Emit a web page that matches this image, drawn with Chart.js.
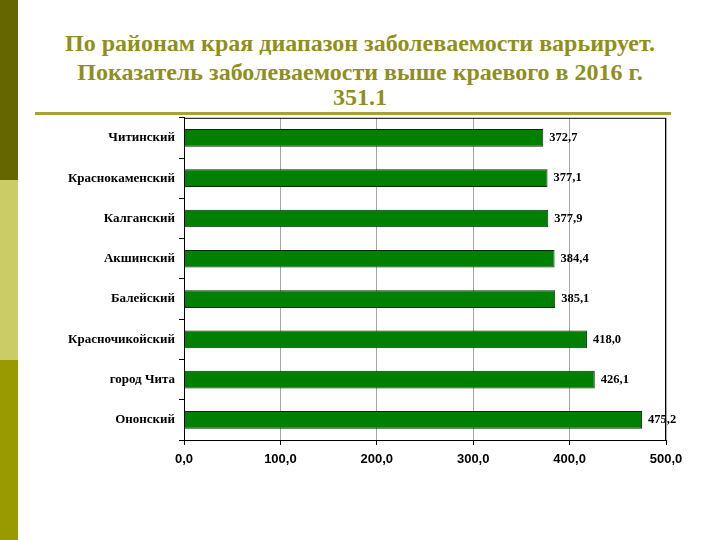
<!DOCTYPE html>
<html>
<head>
<meta charset="utf-8">
<script src="https://cdn.jsdelivr.net/npm/chart.js@4"></script>
<style>
  body { margin: 0; width: 720px; height: 540px; background: #fff; position: relative; overflow: hidden; }
  .stripe { position: absolute; left: 0; width: 18px; }
  .tline {
    position: absolute; left: 20px; width: 680px; text-align: center; height: 28px; line-height: 28px;
    font-family: "Liberation Serif", serif; font-weight: bold; font-size: 24px; color: #8f8f1c;
  }
  #rule { position: absolute; left: 35px; top: 112px; width: 636px; height: 3px; background: #a3a33a; }
  #wrap { position: absolute; left: 20px; top: 106px; width: 700px; height: 369px; }
</style>
</head>
<body>
<div class="stripe" style="top:0;height:180px;background:#666600"></div>
<div class="stripe" style="top:180px;height:180px;background:#cccc66"></div>
<div class="stripe" style="top:360px;height:180px;background:#999900"></div>
<div class="tline" style="top:29px">По районам края диапазон заболеваемости варьирует.</div>
<div class="tline" style="top:58px">Показатель заболеваемости выше краевого в 2016 г.</div>
<div class="tline" style="top:83px">351.1</div>
<div id="rule"></div>
<div id="wrap"><canvas id="chart"></canvas></div>
<script>
// --- Data ---
const districts = ['Читинский', 'Краснокаменский', 'Калганский', 'Акшинский', 'Балейский', 'Красночикойский', 'город Чита', 'Ононский'];
const rates = [372.7, 377.1, 377.9, 384.4, 385.1, 418.0, 426.1, 475.2];
const xTicks = [0, 100, 200, 300, 400, 500];

const fmt = v => v.toFixed(1).replace('.', ',');

// --- Values to the right of each bar + box around plot area ---
const valueLabels = {
    id: 'valueLabels',
    afterDatasetsDraw(chart) {
        const ctx = chart.ctx;
        const meta = chart.getDatasetMeta(0);
        ctx.save();
        ctx.font = 'bold 12.5px "Liberation Serif", serif';
        ctx.fillStyle = '#000';
        ctx.textBaseline = 'middle';
        meta.data.forEach((bar, i) => {
            ctx.fillText(fmt(rates[i]), bar.x + 6, bar.y);
        });
        const a = chart.chartArea;
        ctx.strokeStyle = '#000';
        ctx.lineWidth = 1;
        ctx.strokeRect(a.left + 0.5, a.top + 0.5, a.right - a.left - 1, a.bottom - a.top);
        ctx.restore();
    }
};

new Chart(document.getElementById('chart'), {
    type: 'bar',
    data: {
        labels: districts,
        datasets: [{
            data: rates,
            backgroundColor: '#008000',
            borderColor: '#0a2a0a',
            borderWidth: 1,
            barPercentage: 0.44,
            categoryPercentage: 1
        }]
    },
    options: {
        indexAxis: 'y',
        responsive: true,
        maintainAspectRatio: false,
        animation: false,
        layout: { padding: { top: 2, right: 54, left: 0, bottom: 0 } },
        plugins: { legend: { display: false }, tooltip: { enabled: false } },
        scales: {
            x: {
                min: 0, max: 500,
                afterBuildTicks: s => { s.ticks = xTicks.map(v => ({ value: v })); },
                afterFit: s => { s.height = 35; },
                border: { color: '#000' },
                grid: { color: '#a8a8a8', tickColor: '#000', tickLength: 5 },
                ticks: {
                    color: '#000', padding: 7,
                    font: { family: '"Liberation Sans", Arial', weight: 'bold', size: 13 },
                    callback: v => fmt(v)
                }
            },
            y: {
                afterFit: s => { s.width = 164; },
                border: { color: '#000' },
                grid: { drawOnChartArea: false, tickColor: '#000', tickLength: 5 },
                ticks: {
                    color: '#000', padding: 4,
                    font: { family: '"Liberation Serif", serif', weight: 'bold', size: 13 }
                }
            }
        }
    },
    plugins: [valueLabels]
});
</script>
</body>
</html>
